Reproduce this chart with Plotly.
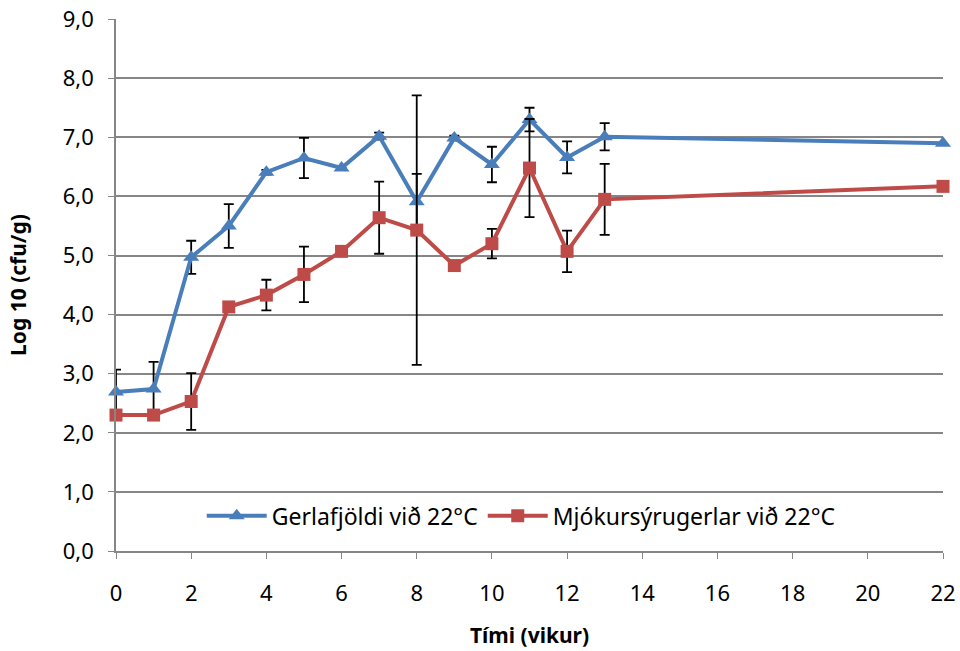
import plotly.graph_objects as go

# =====================================================
# DATA
# =====================================================

weeks = [0, 1, 2, 3, 4, 5, 6, 7, 8, 9, 10, 11, 12, 13, 22]

gerla_values = [2.69, 2.74, 4.97, 5.50, 6.41, 6.65, 6.48, 7.02, 5.91,
                6.99, 6.54, 7.30, 6.66, 7.01, 6.90]
gerla_errors = [0.38, 0.46, 0.28, 0.37, 0.04, 0.34, 0.0, 0.06, 0.47,
                0.04, 0.30, 0.20, 0.27, 0.23, 0.0]

mjolk_values = [2.30, 2.30, 2.53, 4.13, 4.33, 4.68, 5.07, 5.64, 5.43,
                4.83, 5.20, 6.48, 5.07, 5.95, 6.17]
mjolk_errors = [0.0, 0.0, 0.48, 0.0, 0.26, 0.47, 0.0, 0.61, 2.28,
                0.05, 0.25, 0.83, 0.35, 0.60, 0.0]

series_names = ["Gerlafjöldi við 22°C", "Mjókursýrugerlar við 22°C"]

y_ticks = [0, 1, 2, 3, 4, 5, 6, 7, 8, 9]
x_ticks = [0, 2, 4, 6, 8, 10, 12, 14, 16, 18, 20, 22]

BLUE = "#4A7EBB"
RED = "#BE4B48"
GRID = "#868686"
FONT = "Noto Sans"

# =====================================================
# FIGURE
# =====================================================

fig = go.Figure()

fig.add_trace(
    go.Scatter(
        x=weeks,
        y=gerla_values,
        mode="lines+markers",
        name=series_names[0],
        line=dict(color=BLUE, width=4),
        marker=dict(symbol="triangle-up", size=14, color=BLUE),
        error_y=dict(type="data", array=gerla_errors, visible=True,
                     color="black", thickness=1.8, width=5),
        cliponaxis=False
    )
)

fig.add_trace(
    go.Scatter(
        x=weeks,
        y=mjolk_values,
        mode="lines+markers",
        name=series_names[1],
        line=dict(color=RED, width=4),
        marker=dict(symbol="square", size=13, color=RED),
        error_y=dict(type="data", array=mjolk_errors, visible=True,
                     color="black", thickness=1.8, width=5),
        cliponaxis=False
    )
)

fig.update_layout(
    width=960,
    height=651,
    margin=dict(l=116, r=17, t=19, b=100),
    paper_bgcolor="white",
    plot_bgcolor="white",
    separators=", ",
    font=dict(family=FONT, size=22, color="black"),
    legend=dict(
        orientation="h",
        x=0.49,
        y=0.066,
        xanchor="center",
        yanchor="middle",
        bgcolor="white",
        font=dict(size=23),
        itemwidth=60
    ),
    xaxis=dict(
        range=[0, 22],
        tickvals=x_ticks,
        showgrid=False,
        zeroline=False,
        showline=True,
        linecolor=GRID,
        linewidth=1.5,
        ticks="outside",
        ticklen=6,
        tickcolor=GRID,
        ticklabelstandoff=16,
        ticklabeloverflow="allow",
        automargin=False,
        title=dict(text="<b>Tími (vikur)</b>", font=dict(size=21), standoff=22)
    ),
    yaxis=dict(
        range=[0, 9.002],
        tickvals=y_ticks,
        tickformat=".1f",
        showgrid=True,
        gridcolor=GRID,
        gridwidth=1.5,
        zeroline=False,
        showline=True,
        linecolor=GRID,
        linewidth=1.5,
        ticks="outside",
        ticklen=6,
        tickcolor=GRID,
        ticklabelstandoff=10,
        ticklabeloverflow="allow",
        automargin=False,
        title=dict(text="<b>Log 10 (cfu/g)</b>", font=dict(size=21), standoff=30)
    )
)

# drop the browser's default body margin so the figure fills the window
fig.write_html(
    "out.html",
    config={"displayModeBar": False},
    post_script="document.body.style.margin = '0';"
)
